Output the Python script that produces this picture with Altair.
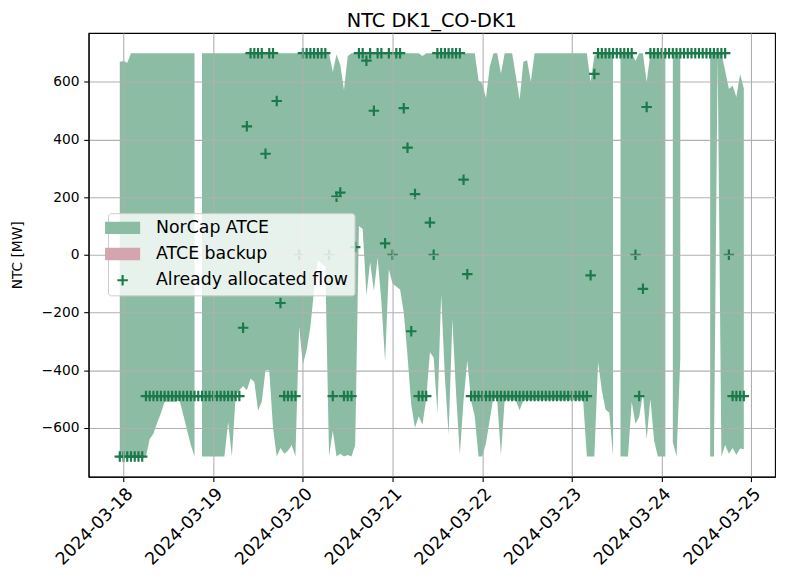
import altair as alt
import pandas as pd

START = "2024-03-17T23:00:00Z"   # first hourly sample
SERIES = ["NorCap ATCE", "ATCE backup", "Already allocated flow"]
Y_TICKS = [-600, -400, -200, 0, 200, 400, 600]
X_TICK_DAYS = ["2024-03-18", "2024-03-19", "2024-03-20", "2024-03-21",
               "2024-03-22", "2024-03-23", "2024-03-24", "2024-03-25"]

# NorCap ATCE upper bound (MW), hourly from START
upper = [
    670, 673, 667, 700, 700, 700, 700, 700, 700, 700, 700, 700,
    700, 700, 700, 700, 700, 700, 700, 700, 700, None, 700, 700,
    700, 700, 700, 700, 700, 700, 700, 700, 700, 700, 700, 700,
    700, 700, 700, 700, 700, 700, 700, 700, 700, 700, 700, 700,
    700, 700, 700, 700, 700, 700, 700, 700, 700, 635, 695, 660,
    572, 690, 700, 700, 700, 700, 700, 700, 700, 700, 700, 700,
    700, 700, 700, 700, 700, 700, 700, 700, 700, 690, 700, 700,
    700, 700, 700, 700, 700, 700, 700, 700, 700, 700, 700, 700,
    606, 595, 544, 652, 700, 700, 629, 700, 700, 700, 620, 538,
    670, 675, 601, 700, 700, 700, 700, 700, 700, 700, 700, 700,
    700, 700, 700, 700, 700, 700, 600, 690, 700, 700, 700, 700,
    700, None, 700, 700, 700, 700, 674, 700, 700, 600, 700, 700,
    700, 700, 700, None, 700, 700, 690, None, None, None, None, None,
    None, None, 700, 700, 700, 700, 640, 576, 588, 548, 628, 577,
]

# NorCap ATCE lower bound (MW)
lower = [
    -700, -700, -700, -700, -700, -700, -700, -700, -639, -621, -583, -550,
    -510, -510, -510, -510, -505, -556, -608, -660, -700, None, -700, -700,
    -700, -700, -700, -700, -700, -580, -700, -490, -470, -455, -470, -430,
    -440, -540, -510, -400, -400, -600, -700, -670, -690, -680, -660, -700,
    -250, -380, -330, -250, -120, -20, -30, -40, -700, -610, -700, -690,
    -700, -695, -700, -660, 100, 90, -140, -25, -125, -10, -160, -370,
    -50, -100, -110, -120, -200, -350, -520, -600, -560, -590, -500, -338,
    -356, -550, -138, -425, -625, -224, -482, -694, -505, -367, -505, -562,
    -700, -700, -653, -573, -493, -505, -694, -505, -505, -505, -505, -539,
    -505, -505, -505, -505, -505, -505, -505, -505, -505, -505, -505, -505,
    -505, -505, -505, -505, -505, -700, -700, -700, -373, -470, -537, -548,
    -700, None, -700, -700, -700, -510, -586, -562, -480, -640, -500, -645,
    -700, -700, -700, None, -650, -700, -360, None, None, None, None, None,
    None, None, -700, -700, 690, -700, -660, -690, -670, -695, -672, -675,
]

# Already allocated flow (MW)
flow = [
    -700, -700, -700, -700, -700, -700, -700, -490, -490, -490, -490, -490,
    -490, -490, -490, -490, -490, -490, -490, -490, -490, -490, -490, -490,
    -490, -490, -490, -490, -490, -490, -490, -490, -490, -253, 446, 700,
    700, 700, 700, 351, 700, 700, 534, -167, -490, -490, -490, -490,
    0, 700, 700, 700, 700, 700, 700, 700, 0, -490, 202, 216,
    -490, -490, -490, 27, 700, 700, 674, 700, 500, 700, 700, 40,
    700, 0, 700, 700, 509, 372, -265, 211, -490, -490, -490, 112,
    0, 700, 700, 700, 700, 700, 700, 700, 261, -67, -490, -490,
    -490, -490, -490, -490, -490, -490, -490, -490, -490, -490, -490, -490,
    -490, -490, -490, -490, -490, -490, -490, -490, -490, -490, -490, -490,
    -490, -490, -490, -490, -490, -490, -71, 628, 700, 700, 700, 700,
    700, 700, 700, 700, 700, 700, 0, -490, -118, 513, 700, 700,
    700, 700, 700, 700, 700, 700, 700, 700, 700, 700, 700, 700,
    700, 700, 700, 700, 700, 700, 700, 0, -490, -490, -490, -490,
]

GREEN = "#8dbca4"
PINK = "#d4a5af"
DARK = "#1b7a4a"

# symbol paths (unit coordinates, scaled by sqrt(size)/2); the cross carries two
# move-to points so that its bounds equal the rectangle's (same legend alignment)
RECT = "M-2.53,-0.886H2.53V0.886H-2.53Z"
CROSS = ("M-2.53,-0.886M2.53,0.886"
         "M-0.157,-0.757H0.157V-0.157H0.757V0.157H0.157V0.757"
         "H-0.157V0.157H-0.757V-0.157H-0.157Z")

times = pd.date_range(START, periods=len(upper), freq="h")
iso = [t.strftime("%Y-%m-%dT%H:%M:%SZ") for t in times]

area_df = pd.DataFrame({"t": iso, "lower": lower, "upper": upper, "series": SERIES[0]})
flow_df = pd.DataFrame({"t": iso, "flow": flow, "series": SERIES[2]})

def ms(ts):
    return int(pd.Timestamp(ts).value // 10**6)

t0 = ms(times[0])
t1 = ms(times[-1])
margin = (t1 - t0) * 0.05
x_domain = [t0 - margin, t1 + margin]
x_values = [ms(d + "T00:00:00Z") for d in X_TICK_DAYS]

xscale = alt.Scale(type="utc", domain=x_domain, nice=False)
yscale = alt.Scale(domain=[-770, 770], nice=False, zero=False)

xaxis = alt.Axis(values=x_values, format="%Y-%m-%d", labelAngle=-45, labelAlign="right",
                 labelBaseline="top", grid=True, zindex=1, title=None,
                 tickSize=4.9, labelPadding=3.0, labelFontSize=17.5)
yaxis = alt.Axis(values=Y_TICKS, grid=True, zindex=1, title="NTC [MW]",
                 tickSize=4.9, labelPadding=4.9, titlePadding=17)

legend = alt.Legend(title=None, orient="none", legendX=19.6, legendY=182,
                    fillColor="rgba(255,255,255,0.8)", strokeColor="#cccccc",
                    cornerRadius=3, padding=6, rowPadding=7.5,
                    labelFont="DejaVu Sans", labelFontSize=17.5, labelColor="black",
                    labelLimit=400, labelOffset=25, symbolSize=196,
                    symbolStrokeWidth=0, zindex=2)

cscale = alt.Scale(domain=SERIES, range=[GREEN, PINK, DARK])
sscale = alt.Scale(domain=SERIES, range=[RECT, RECT, CROSS])

area = alt.Chart(area_df).mark_area(opacity=1).encode(
    x=alt.X("t:T", scale=xscale, axis=xaxis),
    y=alt.Y("lower:Q", scale=yscale, axis=yaxis),
    y2="upper:Q",
    color=alt.Color("series:N", scale=cscale, legend=legend),
)
pts = alt.Chart(flow_df).mark_point(size=196, filled=True, opacity=1, strokeWidth=0).encode(
    x=alt.X("t:T", scale=xscale, axis=xaxis),
    y=alt.Y("flow:Q", scale=yscale, axis=yaxis),
    color=alt.Color("series:N", scale=cscale, legend=legend),
    shape=alt.Shape("series:N", scale=sscale, legend=legend),
)

chart = alt.layer(area, pts).properties(
    width=693.3, height=448.2,
    autosize=alt.AutoSizeParams(type="none"),
    padding={"left": 81.4, "top": 22.4, "right": 2, "bottom": 95},
    title=alt.TitleParams("NTC DK1_CO-DK1", fontSize=19.5, font="DejaVu Sans",
                          fontWeight="normal", color="black", offset=1.8,
                          anchor="middle"),
).configure_view(stroke="black", strokeWidth=1.1).configure_axis(
    labelFont="DejaVu Sans", labelFontSize=13.9, labelColor="black",
    titleFont="DejaVu Sans", titleFontSize=13.9, titleFontWeight="normal", titleColor="black",
    domainColor="black", domainWidth=1.1, tickColor="black", tickWidth=1.1,
    gridColor="#b0b0b0", gridWidth=1.1, labelFlush=False, labelOverlap=False,
)

chart.save("out.html", embed_options={"renderer": "svg", "actions": False})
